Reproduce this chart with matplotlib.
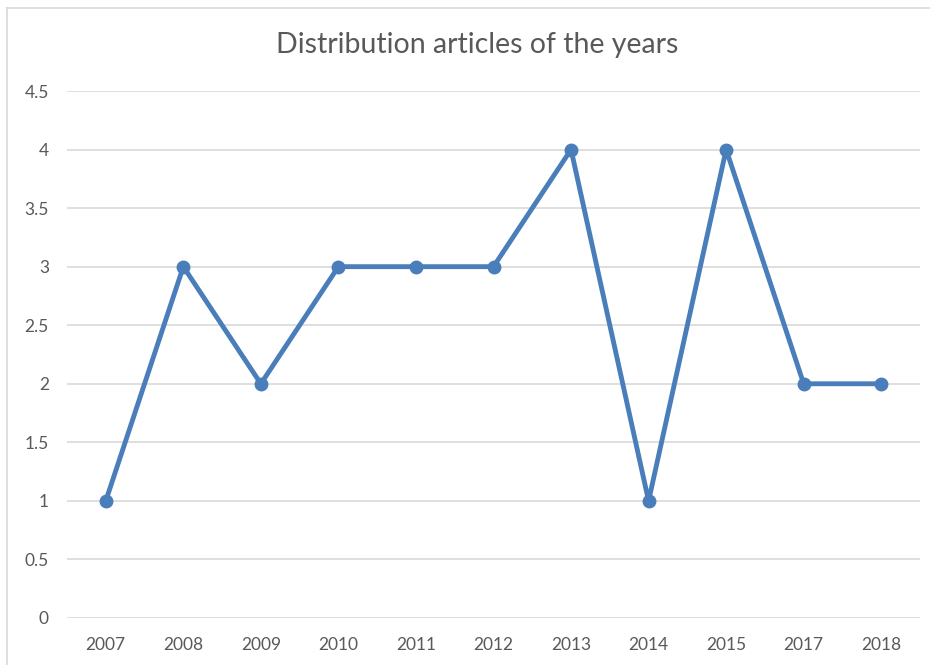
import matplotlib.pyplot as plt
from matplotlib.lines import Line2D

years = ['2007', '2008', '2009', '2010', '2011', '2012', '2013', '2014', '2015', '2017', '2018']
articles = [1, 3, 2, 3, 3, 3, 4, 1, 4, 2, 2]
yticks = [0, 0.5, 1, 1.5, 2, 2.5, 3, 3.5, 4, 4.5]

plt.rcParams['font.family'] = ['Lato', 'DejaVu Sans']

fig = plt.figure(figsize=(9.3, 6.65), dpi=100)
ax = fig.add_axes([67/930, 1 - 618/665, (920-67)/930, (618-91)/665])

x = range(len(years))
ax.plot(x, articles, color='#4a7ebb', lw=3.5, marker='o', ms=9,
        solid_joinstyle='round', solid_capstyle='round', zorder=3)

ax.set_xlim(-0.5, len(years) - 0.5)
ax.set_ylim(0, 4.5)
ax.set_yticks(yticks)
ax.set_yticklabels(['0', '0.5', '1', '1.5', '2', '2.5', '3', '3.5', '4', '4.5'])
ax.set_xticks(list(x))
ax.set_xticklabels(years)
ax.grid(axis='y', color='#d9d9d9', lw=1.2)
ax.set_axisbelow(True)
for s in ax.spines.values():
    s.set_visible(False)
ax.tick_params(length=0, colors='#595959', labelsize=12.5)
ax.tick_params(axis='y', pad=13)
ax.tick_params(axis='x', pad=14)

fig.text(477/930, 1 - 45/665, 'Distribution articles of the years', ha='center', va='center',
         fontsize=20.5, color='#595959')

# chart border (top and left edges visible)
fig.add_artist(Line2D([7/930, 1], [1 - 8/665] * 2, color='#d9d9d9', lw=1.2, transform=fig.transFigure))
fig.add_artist(Line2D([7/930] * 2, [0, 1 - 8/665], color='#d9d9d9', lw=1.2, transform=fig.transFigure))

fig.savefig('out.png')
